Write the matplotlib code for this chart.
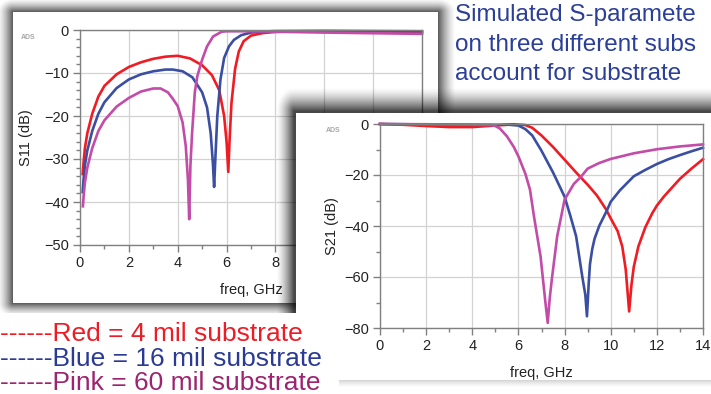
import numpy as np
import matplotlib
matplotlib.use('Agg')
import matplotlib.pyplot as plt
from matplotlib.patches import Rectangle
from matplotlib.ticker import MultipleLocator

plt.rcParams['font.family'] = ['Liberation Sans', 'DejaVu Sans']

# ---------------- data ----------------
s11_red_f = [0.11, 0.15, 0.2, 0.3, 0.5, 0.75, 1.0, 1.5, 2.0, 2.5, 3.0, 3.5, 4.0, 4.5, 5.0, 5.4, 5.7, 5.9,
             6.0, 6.07, 6.12, 6.2, 6.35, 6.5, 6.7, 7.0, 7.5, 8.0, 9.0, 10.0, 11.0, 12.0, 13.0, 14.0]
s11_red_db = [-33.5, -30.5, -27.5, -24.0, -19.5, -15.5, -13.0, -10.3, -8.6, -7.5, -6.7, -6.2, -6.0, -6.6,
              -8.2, -10.5, -14.0, -20.0, -26.0, -33.0, -26.0, -17.0, -9.0, -5.0, -2.6, -1.3, -0.7, -0.45,
              -0.3, -0.3, -0.3, -0.35, -0.45, -0.55]

s11_blue_f = [0.11, 0.15, 0.2, 0.3, 0.5, 0.75, 1.0, 1.5, 2.0, 2.5, 3.0, 3.5, 3.8, 4.2, 4.6, 5.0, 5.2, 5.35,
              5.44, 5.49, 5.54, 5.62, 5.75, 5.9, 6.1, 6.3, 6.6, 7.0, 7.5, 8.0, 10.0, 12.0, 14.0]
s11_blue_db = [-37.7, -34.5, -31.5, -28.0, -23.5, -19.5, -16.8, -13.5, -11.5, -10.3, -9.6, -9.2, -9.2, -9.6,
               -11.0, -14.5, -18.0, -24.0, -31.0, -36.5, -30.0, -20.0, -11.5, -6.5, -3.8, -2.3, -1.2, -0.6,
               -0.35, -0.25, -0.2, -0.25, -0.3]

s11_pink_f = [0.12, 0.15, 0.2, 0.3, 0.5, 0.75, 1.0, 1.5, 2.0, 2.5, 3.0, 3.3, 3.6, 3.8, 4.0, 4.2, 4.33, 4.42,
              4.47, 4.52, 4.59, 4.7, 4.8, 5.0, 5.2, 5.45, 5.8, 6.0, 7.0, 8.0, 10.0, 12.0, 14.0]
s11_pink_db = [-41.0, -38.5, -35.5, -32.0, -27.5, -23.5, -21.0, -17.8, -15.8, -14.3, -13.6, -13.6, -14.5,
               -16.0, -17.7, -21.5, -27.0, -35.0, -44.0, -31.5, -23.8, -14.5, -10.8, -6.9, -3.8, -1.5, -0.4,
               -0.3, -0.3, -0.4, -0.6, -0.75, -0.9]

s21_red_f = [0, 1, 2, 3, 4, 5, 5.8, 6.3, 6.6, 7.0, 7.5, 8.0, 8.5, 9.0, 9.4, 9.8, 10.0, 10.3, 10.5, 10.65,
             10.8, 10.9, 11.0, 11.2, 11.5, 11.8, 12.0, 12.3, 12.6, 13.0, 13.5, 14.0]
s21_red_db = [0, -0.3, -0.8, -1.2, -1.2, -0.6, -0.1, -0.4, -1.5, -4.5, -9.0, -14.0, -19.0, -23.8, -28.0,
              -33.5, -37.0, -42.0, -48.0, -57.0, -73.5, -63.0, -56.0, -48.0, -40.5, -35.0, -32.0, -28.5,
              -25.5, -21.5, -17.5, -13.8]

s21_blue_f = [0, 2, 4, 5, 5.6, 6.0, 6.3, 6.6, 7.0, 7.5, 8.0, 8.25, 8.5, 8.77, 8.9, 8.97, 9.05, 9.1, 9.2,
              9.3, 9.5, 9.83, 10.0, 10.4, 11.0, 11.5, 12.0, 12.5, 13.0, 13.5, 14.0]
s21_blue_db = [0, -0.2, -0.3, -0.3, -0.3, -0.6, -2.0, -4.5, -10.5, -19.0, -28.5, -36.0, -44.0, -60.0,
               -67.0, -75.4, -62.0, -55.0, -49.0, -45.0, -40.0, -34.0, -30.5, -26.0, -20.5, -18.0, -15.7,
               -13.8, -12.2, -10.7, -9.3]

s21_pink_f = [0, 2, 4, 4.8, 5.0, 5.2, 5.5, 5.8, 6.0, 6.3, 6.5, 6.67, 6.96, 7.17, 7.27, 7.36, 7.46, 7.68,
              8.0, 8.4, 8.7, 9.0, 9.5, 10.0, 11.0, 12.0, 13.0, 14.0]
s21_pink_db = [0, -0.1, -0.25, -0.4, -0.8, -1.8, -4.8, -9.0, -12.7, -19.5, -25.7, -36.0, -52.0, -70.0,
               -78.0, -68.0, -60.0, -44.0, -29.7, -23.5, -20.8, -17.5, -15.3, -13.7, -11.5, -9.9, -8.8, -8.0]

# visible part of the slide text (cut at the right edge in the reference)
title_lines = ["Simulated S-paramete", "on three different subs", "account for substrate"]
legend_lines = ["------Red = 4 mil substrate", "------Blue = 16 mil substrate", "------Pink = 60 mil substrate"]

C_RED = '#ef1c24'
C_BLUE = '#3a4ea2'
C_PINK = '#c24ca8'
T_RED = '#ee1c25'
T_BLUE = '#2b3b94'
T_PINK = '#9c2470'
T_TITLE = '#2b3f98'

# ---------------- figure ----------------
W, H = 711, 394
fig = plt.figure(figsize=(W / 100, H / 100), dpi=100)
fig.patch.set_facecolor('white')


def layer(z):
    ax = fig.add_axes([0, 0, 1, 1], zorder=z)
    ax.set_xlim(0, W)
    ax.set_ylim(H, 0)
    ax.axis('off')
    ax.patch.set_alpha(0)
    return ax


def shadow(rect, widths, amax, bottom_factor=1.0):
    x0, y0, x1, y1 = rect
    xx, yy = np.meshgrid(np.arange(W) + 0.5, np.arange(H) + 0.5)
    wl, wt, wr, wb = widths
    z = np.zeros_like(xx)
    dx = np.maximum(np.maximum((x0 - xx) / wl, (xx - x1) / wr), z)
    dy = np.maximum(np.maximum((y0 - yy) / wt, (yy - y1) / wb), z)
    d = np.sqrt(dx ** 2 + dy ** 2)
    a = amax * np.clip(1 - d, 0, 1) ** 1.5
    a = np.where(yy > y1, a * bottom_factor, a)
    img = np.zeros((H, W, 4))
    img[..., 3] = a
    return img


P1 = (13, 12, 438, 303)
P2 = (296, 113, 720, 380)

L0 = layer(0)
L0.imshow(shadow(P1, (16, 14, 18, 14), 0.66), extent=(0, W, H, 0), interpolation='bilinear', zorder=0)
L0.add_patch(Rectangle((P1[0], P1[1]), P1[2] - P1[0], P1[3] - P1[1], facecolor='white', edgecolor='none', zorder=1))
L0.text(28, 37, 'ADS', fontsize=5, color='#a8a8a8', fontweight='bold', ha='center', va='center')
for i, line in enumerate(title_lines):
    L0.text(455, 21 + i * 29.5, line, fontsize=17.5, color=T_TITLE, ha='left', va='baseline')


def style_axes(ax, ymaj, ymin, ylab, ylc, xlc):
    ax.set_xlim(0, 14)
    ax.xaxis.set_major_locator(MultipleLocator(2))
    ax.xaxis.set_minor_locator(MultipleLocator(1))
    ax.yaxis.set_major_locator(MultipleLocator(ymaj))
    ax.yaxis.set_minor_locator(MultipleLocator(ymin))
    ax.grid(True, which='major', color='#d2d2d2', lw=0.9)
    ax.set_axisbelow(True)
    for s in ax.spines.values():
        s.set_color('#808080')
        s.set_linewidth(1.0)
    ax.tick_params(which='major', direction='out', length=5, width=1, color='#808080',
                   labelsize=10.5, labelcolor='#222222', pad=3)
    ax.tick_params(which='minor', direction='out', length=3, width=1, color='#808080')
    ax.set_ylabel(ylab, fontsize=10.5, color='#222222')
    ax.set_xlabel('freq, GHz', fontsize=10.5, color='#222222', va='top')
    ax.yaxis.set_label_coords(*ylc)
    ax.xaxis.set_label_coords(*xlc)


ax1 = fig.add_axes([80 / W, 1 - 245 / H, 342 / W, 215 / H], zorder=1)
ax1.set_ylim(-50, 0)
style_axes(ax1, 10, 2, 'S11 (dB)', (-0.137, 0.5), (0.5, -0.177))
lw = 1.9
ax1.plot(s11_red_f, s11_red_db, color=C_RED, lw=lw, solid_joinstyle='round', clip_on=False)
ax1.plot(s11_blue_f, s11_blue_db, color=C_BLUE, lw=lw, solid_joinstyle='round', clip_on=False)
ax1.plot(s11_pink_f, s11_pink_db, color=C_PINK, lw=lw, solid_joinstyle='round', clip_on=False)

L2 = layer(2)
L2.imshow(shadow((P2[0] - 2, P2[1] - 2, P2[2], P2[3]), (18, 24, 10, 8), 0.72, bottom_factor=0.25),
          extent=(0, W, H, 0), interpolation='bilinear', zorder=0)
L2.add_patch(Rectangle((P2[0], P2[1]), P2[2] - P2[0], P2[3] - P2[1], facecolor='white', edgecolor='none', zorder=1))
L2.text(333, 131, 'ADS', fontsize=5, color='#a8a8a8', fontweight='bold', ha='center', va='center')

ax2 = fig.add_axes([380 / W, 1 - 328 / H, 323 / W, 204 / H], zorder=3)
ax2.set_ylim(-80, 0)
style_axes(ax2, 20, 10, 'S21 (dB)', (-0.127, 0.5), (0.5, -0.186))
ax2.plot(s21_red_f, s21_red_db, color=C_RED, lw=lw, solid_joinstyle='round', clip_on=False)
ax2.plot(s21_blue_f, s21_blue_db, color=C_BLUE, lw=lw, solid_joinstyle='round', clip_on=False)
ax2.plot(s21_pink_f, s21_pink_db, color=C_PINK, lw=lw, solid_joinstyle='round', clip_on=False)

L4 = layer(4)
L4.add_patch(Rectangle((0, 313), 339, 90, facecolor='white', edgecolor='none', zorder=0))
for i, (line, c) in enumerate(zip(legend_lines, [T_RED, T_BLUE, T_PINK])):
    L4.text(0, 341 + i * 24.5, line, fontsize=19, color=c, ha='left', va='baseline')

fig.savefig('out.png', dpi=100, facecolor='white')
